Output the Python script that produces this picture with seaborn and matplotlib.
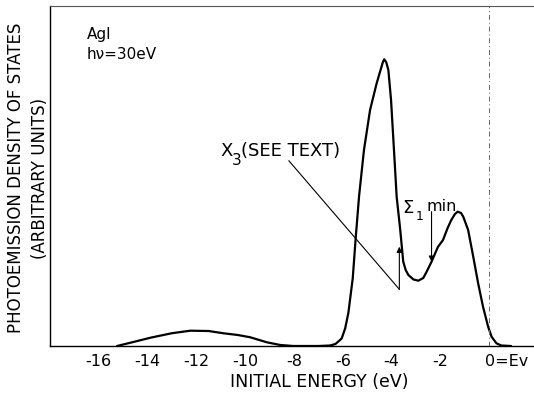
import matplotlib
matplotlib.use("Agg")
import matplotlib.pyplot as plt
from matplotlib.transforms import ScaledTranslation
import seaborn as sns
import pandas as pd

# Photoemission density of states of AgI at hv = 30 eV
energy = [-15.25, -14.5, -13.88, -13.0, -12.25, -11.5, -10.88, -10.3, -9.79, -9.11,
          -8.56, -8.02, -7.0, -6.52, -6.3, -6.11, -6.04, -5.90, -5.77, -5.59,
          -5.47, -5.33, -5.13, -4.88, -4.61, -4.45, -4.36, -4.30, -4.22, -4.13,
          -4.02, -3.90, -3.79, -3.65, -3.52, -3.42, -3.31, -3.10, -2.90, -2.70,
          -2.56, -2.36, -2.10, -1.89, -1.70, -1.55, -1.40, -1.29, -1.15, -1.06,
          -0.86, -0.65, -0.45, -0.25, -0.04, 0.10, 0.30, 0.50, 0.90]
intensity = [0.0, 4.5, 8.3, 12.8, 15.3, 15.0, 12.7, 11.0, 8.7, 3.7,
             1.0, 0.0, 0.0, 0.5, 2.0, 6.0, 7.7, 17.7, 33.0, 67.7,
             107.7, 150.0, 196.0, 236.0, 262.7, 276.0, 283.5, 286.7, 284.0, 276.0,
             246.0, 196.0, 149.3, 117.7, 84.3, 76.0, 71.0, 66.5, 65.3, 68.0,
             74.3, 84.3, 99.0, 106.0, 118.0, 126.0, 132.0, 134.3, 133.0, 129.3,
             116.0, 89.3, 62.7, 39.3, 19.3, 9.3, 2.7, 0.5, 0.0]

tick_values = [-16, -14, -12, -10, -8, -6, -4, -2, 0]
tick_labels = ["-16", "-14", "-12", "-10", "-8", "-6", "-4", "-2", "0=Ev"]

sns.set_style("white")
plt.rcParams["font.family"] = ["DejaVu Sans"]
plt.rcParams["text.color"] = "black"
plt.rcParams["xtick.color"] = "black"

df = pd.DataFrame({"energy": energy, "intensity": intensity})

fig = plt.figure(figsize=(5.34, 3.93), dpi=100)
ax = fig.add_axes([50 / 534, 47 / 393, 484 / 534, 340 / 393])

sns.lineplot(data=df, x="energy", y="intensity", ax=ax, color="black",
             linewidth=1.6, sort=False)

ax.set_xlim(-18.0, 1.84)
ax.set_ylim(0, 340)
ax.set_xlabel("")
ax.set_ylabel("")
ax.set_yticks([])
ax.set_xticks(tick_values)
ax.set_xticklabels(tick_labels, fontsize=11.5)
ax.tick_params(axis="x", direction="in", length=5, width=1.0, pad=6, colors="black")

# the "0" of the last label sits under its tick
last = ax.get_xticklabels()[-1]
last.set_horizontalalignment("left")
last.set_transform(last.get_transform() + ScaledTranslation(-4 / 100, 0, fig.dpi_scale_trans))

for side in ["left", "bottom"]:
    ax.spines[side].set_color("black")
    ax.spines[side].set_linewidth(1.0)
ax.spines["top"].set_color("#555555")
ax.spines["top"].set_linewidth(0.8)
ax.spines["right"].set_visible(False)

# Fermi level marker
ax.axvline(0, color="#666666", linewidth=0.7, linestyle=(0, (5, 3, 1, 3)))

# Labels inside the plot
ax.text(-16.5, 319, "AgI", fontsize=11, va="top", ha="left")
ax.text(-16.5, 299, "h\u03bd=30eV", fontsize=11, va="top", ha="left")

ax.text(-11.0, 204, "X", fontsize=13, va="top", ha="left")
ax.text(-10.56, 193, "3", fontsize=11, va="top", ha="left")
ax.text(-10.18, 204, "(SEE TEXT)", fontsize=13, va="top", ha="left")
ax.plot([-8.21, -3.68], [185.3, 56.7], color="black", linewidth=0.8)
ax.annotate("", xy=(-3.68, 99.3), xytext=(-3.68, 56.7),
            arrowprops=dict(arrowstyle="-|>", color="black", lw=0.8,
                            mutation_scale=8, shrinkA=0, shrinkB=0))

ax.text(-3.55, 147, "\u03a3", fontsize=13, va="top", ha="left")
ax.text(-3.0, 136, "1", fontsize=9, va="top", ha="left")
ax.text(-2.55, 147, "min", fontsize=11.5, va="top", ha="left")
ax.annotate("", xy=(-2.36, 84.3), xytext=(-2.36, 134.3),
            arrowprops=dict(arrowstyle="-|>", color="black", lw=0.8,
                            mutation_scale=8, shrinkA=0, shrinkB=0))

# Axis titles
fig.text(319 / 534, 1 - 382 / 393, "INITIAL ENERGY (eV)", fontsize=12.5,
         ha="center", va="center")
fig.text(16.5 / 534, 1 - 178 / 393, "PHOTOEMISSION DENSITY OF STATES",
         fontsize=12, rotation=90, ha="center", va="center")
fig.text(40 / 534, 1 - 178 / 393, "(ARBITRARY UNITS)",
         fontsize=12, rotation=90, ha="center", va="center")

fig.savefig("out.png", dpi=100)
